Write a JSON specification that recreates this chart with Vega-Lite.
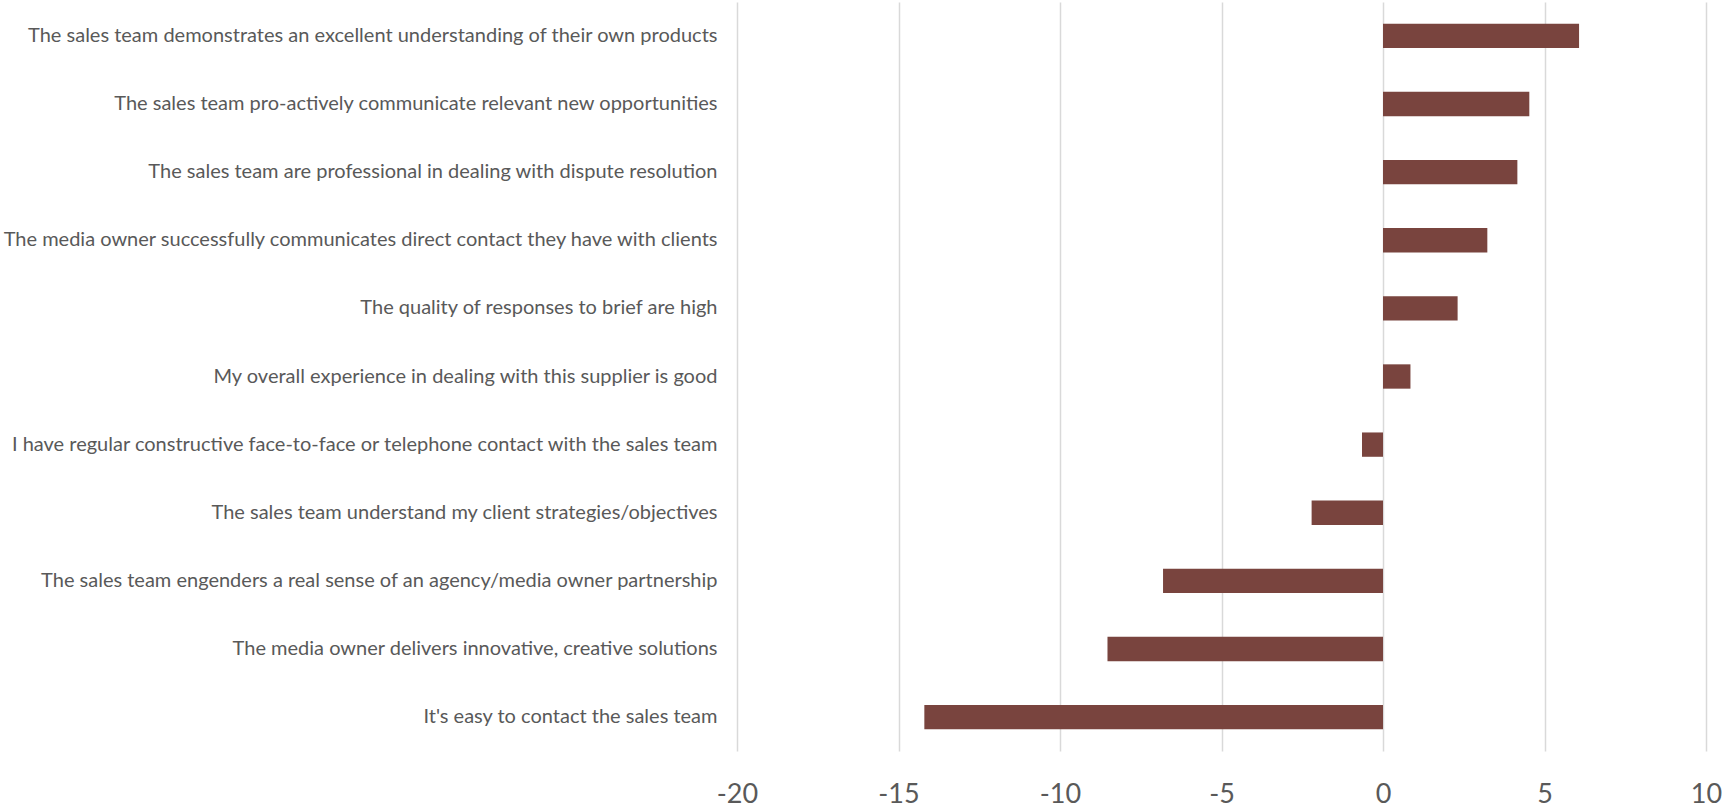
{
  "$schema": "https://vega.github.io/schema/vega-lite/v6.json",
  "width": 969,
  "height": 749,
  "autosize": {"type": "none"},
  "padding": {"left": 737, "top": 2, "right": 21, "bottom": 58},
  "background": "#ffffff",
  "config": {
    "view": {"stroke": null},
    "font": "Lato"
  },
  "data": {
    "values": [
      {"statement": "The sales team demonstrates an excellent understanding of their own products", "score": 6.07},
      {"statement": "The sales team pro-actively communicate relevant new opportunities", "score": 4.53},
      {"statement": "The sales team are professional in dealing with dispute resolution", "score": 4.16},
      {"statement": "The media owner successfully communicates direct contact they have with clients", "score": 3.23},
      {"statement": "The quality of responses to brief are high", "score": 2.31},
      {"statement": "My overall experience in dealing with this supplier is good", "score": 0.85},
      {"statement": "I have regular constructive face-to-face or telephone contact with the sales team", "score": -0.65},
      {"statement": "The sales team understand my client strategies/objectives", "score": -2.21},
      {"statement": "The sales team engenders a real sense of an agency/media owner partnership", "score": -6.81},
      {"statement": "The media owner delivers innovative, creative solutions", "score": -8.53},
      {"statement": "It's easy to contact the sales team", "score": -14.2}
    ]
  },
  "mark": {"type": "bar", "color": "#79443e"},
  "encoding": {
    "y": {
      "field": "statement",
      "type": "nominal",
      "sort": null,
      "title": null,
      "scale": {"paddingInner": 0.643, "paddingOuter": 0.319},
      "axis": {
        "domain": false,
        "ticks": false,
        "grid": false,
        "labelFont": "Lato",
        "labelFontSize": 20,
        "labelColor": "#595959",
        "labelPadding": 20,
        "labelLimit": 760
      }
    },
    "x": {
      "field": "score",
      "type": "quantitative",
      "title": null,
      "scale": {"domain": [-20, 10], "nice": false, "zero": true},
      "axis": {
        "values": [-20, -15, -10, -5, 0, 5, 10],
        "labelExpr": "'' + datum.value",
        "domain": false,
        "ticks": false,
        "tickSize": 0,
        "grid": true,
        "gridColor": "#d9d9d9",
        "gridWidth": 1.5,
        "labelFont": "Lato",
        "labelFontSize": 27,
        "labelColor": "#595959",
        "labelBaseline": "alphabetic",
        "labelPadding": 51,
        "labelFlush": false,
        "labelOverlap": false
      }
    }
  }
}
